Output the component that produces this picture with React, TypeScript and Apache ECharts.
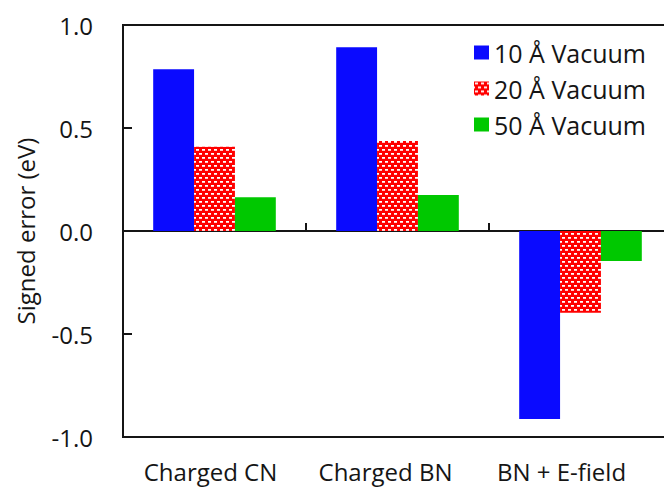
import React, { useEffect, useRef } from "react";
import * as echarts from "echarts";

const categories = ["Charged CN", "Charged BN", "BN + E-field"];
const labelShift = [8, 24, 38];
const seriesNames = ["10 Å Vacuum", "20 Å Vacuum", "50 Å Vacuum"];
const vac10 = [0.785, 0.892, -0.913];
const vac20 = [0.409, 0.437, -0.397];
const vac50 = [0.164, 0.175, -0.146];
const yMin = -1;
const yMax = 1;
const yInterval = 0.5;

const FONT = "'Open Sans', 'Noto Sans', sans-serif";
const INK = "#151515";

function makePattern(): HTMLCanvasElement {
  const c = document.createElement("canvas");
  c.width = 6;
  c.height = 8;
  const ctx = c.getContext("2d")!;
  ctx.fillStyle = "#ff0000";
  ctx.fillRect(0, 0, 6, 8);
  ctx.fillStyle = "#ffffff";
  ctx.fillRect(1, 1, 3, 1);
  ctx.fillRect(4, 5, 2, 1);
  ctx.fillRect(0, 5, 1, 1);
  ctx.fillStyle = "#ffc8c8";
  ctx.fillRect(1, 2, 3, 1);
  ctx.fillRect(4, 6, 2, 1);
  ctx.fillRect(0, 6, 1, 1);
  return c;
}

export default function App() {
  const ref = useRef<HTMLDivElement>(null);
  useEffect(() => {
    if (!ref.current) return;
    const chart = echarts.init(ref.current, undefined, { renderer: "svg" });
    const pattern = { image: makePattern(), repeat: "repeat" };
    chart.setOption({
      animation: false,
      backgroundColor: "#ffffff",
      textStyle: { fontFamily: FONT },
      grid: {
        left: 123,
        top: 25,
        right: -8,
        bottom: 56,
        outerBoundsMode: "none",
        containLabel: false,
        show: true,
        borderColor: INK,
        borderWidth: 2,
        backgroundColor: "transparent",
      },
      legend: {
        data: seriesNames,
        orient: "vertical",
        left: 474,
        top: 40,
        padding: 0,
        itemWidth: 15,
        itemHeight: 14,
        itemGap: 11,
        icon: "rect",
        textStyle: { fontSize: 25, color: INK, fontFamily: FONT },
      },
      xAxis: [
        {
          type: "category",
          data: categories,
          position: "bottom",
          axisLine: { show: true, onZero: true, lineStyle: { color: INK, width: 2 } },
          axisTick: { show: true, inside: true, length: 8, lineStyle: { color: INK, width: 2 } },
          axisLabel: { show: false },
          splitLine: { show: false },
        },
        {
          type: "category",
          data: categories.map((c, i) => ({
            value: c,
            textStyle: { padding: [0, labelShift[i], 0, 0] },
          })),
          position: "bottom",
          axisLine: { show: false, onZero: false },
          axisTick: { show: false },
          axisLabel: { show: true, fontSize: 24, color: INK, margin: 22, fontFamily: FONT },
          splitLine: { show: false },
        },
      ],
      yAxis: {
        type: "value",
        min: yMin,
        max: yMax,
        interval: yInterval,
        name: "Signed error (eV)",
        nameLocation: "middle",
        nameGap: 86,
        nameTextStyle: { fontSize: 24, color: INK, fontFamily: FONT },
        axisLine: { show: true, lineStyle: { color: INK, width: 2 } },
        axisTick: { show: true, inside: true, length: 9, lineStyle: { color: INK, width: 2 } },
        axisLabel: {
          fontSize: 24,
          color: INK,
          margin: 30,
          fontFamily: FONT,
          formatter: (v: number) => v.toFixed(1),
        },
        splitLine: { show: false },
      },
      series: [
        {
          name: seriesNames[0],
          type: "bar",
          xAxisIndex: 0,
          data: vac10,
          barGap: "0%",
          barCategoryGap: "33%",
          itemStyle: { color: "#0a0aff" },
        },
        {
          name: seriesNames[1],
          type: "bar",
          xAxisIndex: 0,
          data: vac20,
          barGap: "0%",
          barCategoryGap: "33%",
          itemStyle: { color: pattern },
        },
        {
          name: seriesNames[2],
          type: "bar",
          xAxisIndex: 0,
          data: vac50,
          barGap: "0%",
          barCategoryGap: "33%",
          itemStyle: { color: "#00c800" },
        },
      ],
    });
    return () => chart.dispose();
  }, []);
  return (
    <div
      ref={ref}
      style={{ position: "fixed", left: 0, top: 0, width: 664, height: 493, background: "#fff" }}
    />
  );
}
